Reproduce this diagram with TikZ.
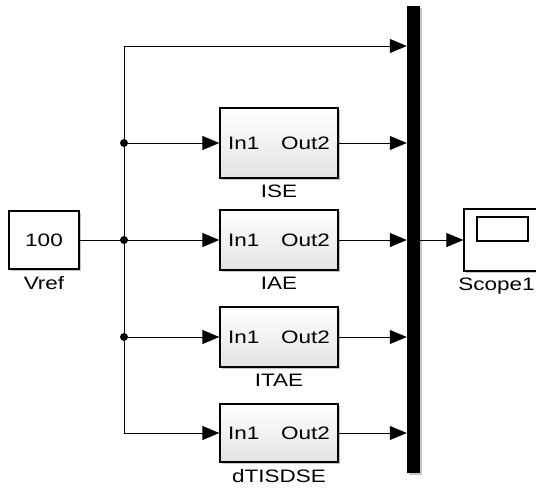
\documentclass[tikz,border=0pt]{standalone}
\usepackage{fontspec}
\setmainfont{Liberation Sans}[FakeStretch=1.25]
\usetikzlibrary{positioning,arrows.meta,shadows}
\tikzset{
  sig/.style={-{Triangle[length=17pt,width=14pt]}, line width=1pt},
  srcbox/.style={rectangle, draw, line width=1.3pt, fill=white, inner sep=0pt,
                 drop shadow={shadow xshift=2pt, shadow yshift=-2pt, fill=gray!45, opacity=1}},
  subsys/.style={rectangle, draw, line width=1.3pt, top color=white, bottom color=gray!22,
                 inner xsep=8pt, text width=102pt, minimum height=60pt,
                 drop shadow={shadow xshift=2pt, shadow yshift=-2pt, fill=gray!45, opacity=1}},
  muxbar/.style={rectangle, fill=black, inner sep=0pt, minimum width=13pt, minimum height=467pt,
                 drop shadow={shadow xshift=2pt, shadow yshift=-2pt, fill=gray!45, opacity=1}},
  dot/.style={circle, fill=black, inner sep=0pt, minimum size=8pt},
  blocklabel/.style={label distance=3pt},
}

\begin{document}
\begin{tikzpicture}[x=1pt, y=-1pt, font=\fontsize{18}{21}\selectfont]
\useasboundingbox (0,0) rectangle (536,491);
%Nodes
\node[srcbox, minimum width=70pt, minimum height=58pt, label={[blocklabel]below:Vref}] (vref) at (44,240) {100};
\node[subsys, minimum height=70pt, label={[blocklabel]below:ISE}] (ise) at (279,143) {In1\hfill Out2};
\node[subsys, label={[blocklabel]below:IAE}] (iae) at (279,240) {In1\hfill Out2};
\node[subsys, label={[blocklabel]below:ITAE}] (itae) at (279,337) {In1\hfill Out2};
\node[subsys, minimum height=58pt, label={[blocklabel]below:dTISDSE}] (dtisdse) at (279,433) {In1\hfill Out2};
\node[muxbar] (mux) at (413.5,239.5) {};
\node[srcbox, minimum width=73pt, minimum height=62pt, label={[blocklabel, xshift=-4pt]below:Scope1}] (scope) at (500.5,240) {};
\node[rectangle, draw, line width=1.3pt, minimum width=51pt, minimum height=24pt] (screen) at (502.5,229) {};

\coordinate (top) at (124,46);
\coordinate (bot) at (124,433);
\node[dot] (d1) at (ise.west -| bot) {};
\node[dot] (d2) at (iae.west -| bot) {};
\node[dot] (d3) at (itae.west -| bot) {};

%Lines
\draw[sig] (vref.east) -- (iae.west);
\draw[sig] (bot) -- (top) -- (top -| mux.west);
\draw[sig] (bot) -- (dtisdse.west);
\draw[sig] (d1) -- (ise.west);
\draw[sig] (d3) -- (itae.west);
\draw[sig] (ise.east) -- (ise.east -| mux.west);
\draw[sig] (iae.east) -- (iae.east -| mux.west);
\draw[sig] (itae.east) -- (itae.east -| mux.west);
\draw[sig] (dtisdse.east) -- (dtisdse.east -| mux.west);
\draw[sig] (mux.east |- scope.west) -- (scope.west);
\end{tikzpicture}
\end{document}
